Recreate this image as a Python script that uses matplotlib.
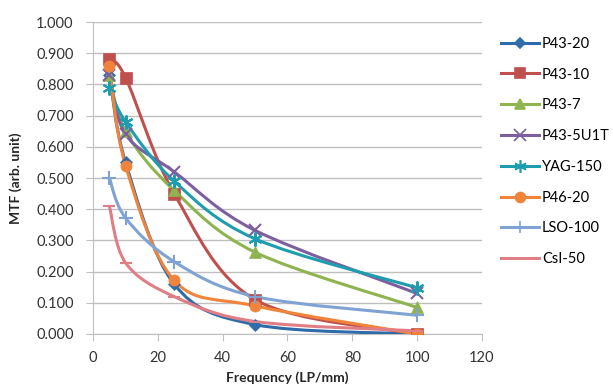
import numpy as np
import matplotlib.pyplot as plt
from matplotlib.path import Path
from matplotlib.patches import PathPatch

plt.rcParams['font.family'] = ['Lato', 'DejaVu Sans']

# Spatial frequency (LP/mm)
freq = [5, 10, 25, 50, 100]

# MTF values per screen
p43_20 = [0.830, 0.550, 0.160, 0.030, 0.000]
p43_10 = [0.880, 0.822, 0.450, 0.110, 0.000]
p43_7 = [0.830, 0.650, 0.460, 0.262, 0.085]
p43_5u1t = [0.830, 0.640, 0.520, 0.332, 0.130]
yag_150 = [0.790, 0.680, 0.490, 0.305, 0.148]
p46_20 = [0.858, 0.540, 0.172, 0.090, 0.000]
lso_100 = [0.500, 0.372, 0.232, 0.120, 0.060]
csi_50 = [0.410, 0.228, 0.120, 0.040, 0.010]

labels = ['P43-20', 'P43-10', 'P43-7', 'P43-5U1T', 'YAG-150', 'P46-20', 'LSO-100', 'CsI-50']
series = [p43_20, p43_10, p43_7, p43_5u1t, yag_150, p46_20, lso_100, csi_50]
colors = ['#2F6BA8', '#C0504D', '#8FB34E', '#7D5FA0', '#1E9DAE', '#F0843A', '#7FA3D2', '#E07E86']
markers = ['D', 's', '^', 'x', (6, 2, 0), 'o', '+', '_']
msizes = [6, 8, 8, 9, 10, 8, 10, 9]


def smooth_path(x, y):
    # Excel-style smoothed line as cubic Bezier segments through the points
    pts = np.column_stack([x, y]).astype(float)
    n = len(pts)
    verts = [pts[0]]
    codes = [Path.MOVETO]
    for i in range(n - 1):
        p0 = pts[i - 1] if i > 0 else pts[i]
        p1 = pts[i]
        p2 = pts[i + 1]
        p3 = pts[i + 2] if i + 2 < n else pts[i + 1]
        c1 = p1 + (p2 - p0) / 6.0
        c2 = p2 - (p3 - p1) / 6.0
        verts += [c1, c2, p2]
        codes += [Path.CURVE4] * 3
    return Path(verts, codes)


fig = plt.figure(figsize=(6.13, 3.87), dpi=100)
ax = fig.add_axes([0.152, 0.137, 0.634, 0.806])

handles = []
for vals, lab, c, m, ms in zip(series, labels, colors, markers, msizes):
    ax.add_patch(PathPatch(smooth_path(freq, vals), fill=False, edgecolor=c, lw=2.2, zorder=3))
    h, = ax.plot(freq, vals, color=c, lw=2.2, marker=m, markersize=ms,
                 markeredgewidth=1.5 if m in ('x', '+', '_') or isinstance(m, tuple) else 0.5,
                 linestyle='none', label=lab, zorder=4)
    handles.append(plt.Line2D([], [], color=c, lw=2.2, marker=m, markersize=ms * 0.9,
                              markeredgewidth=1.2))

ax.set_xlim(0, 120)
ax.set_ylim(0, 1.0)
ax.set_xticks(np.arange(0, 121, 20))
ax.set_yticks(np.arange(0, 1.01, 0.1))
ax.set_yticklabels(['%.3f' % v for v in np.arange(0, 1.01, 0.1)])
ax.yaxis.grid(True, color='#BFBFBF', lw=1)
ax.set_axisbelow(True)
for s in ['top', 'right']:
    ax.spines[s].set_visible(False)
for s in ['left', 'bottom']:
    ax.spines[s].set_color('#BFBFBF')
ax.tick_params(axis='both', colors='#BFBFBF', labelcolor='#333333', labelsize=10.5, length=5)
ax.tick_params(axis='y', pad=9)
ax.tick_params(axis='x', pad=7)

ax.set_xlabel('Frequency (LP/mm)', fontsize=10, fontweight='bold', color='#262626', labelpad=5)
ax.set_ylabel('MTF (arb. unit)', fontsize=10, fontweight='bold', color='#262626', labelpad=10)

fig.legend(handles=handles, labels=labels, loc='upper left', bbox_to_anchor=(0.808, 0.92),
           frameon=False, fontsize=10.5, handlelength=2.6, labelspacing=1.15,
           handletextpad=0.2, borderaxespad=0)

fig.savefig('out.png', dpi=100)
